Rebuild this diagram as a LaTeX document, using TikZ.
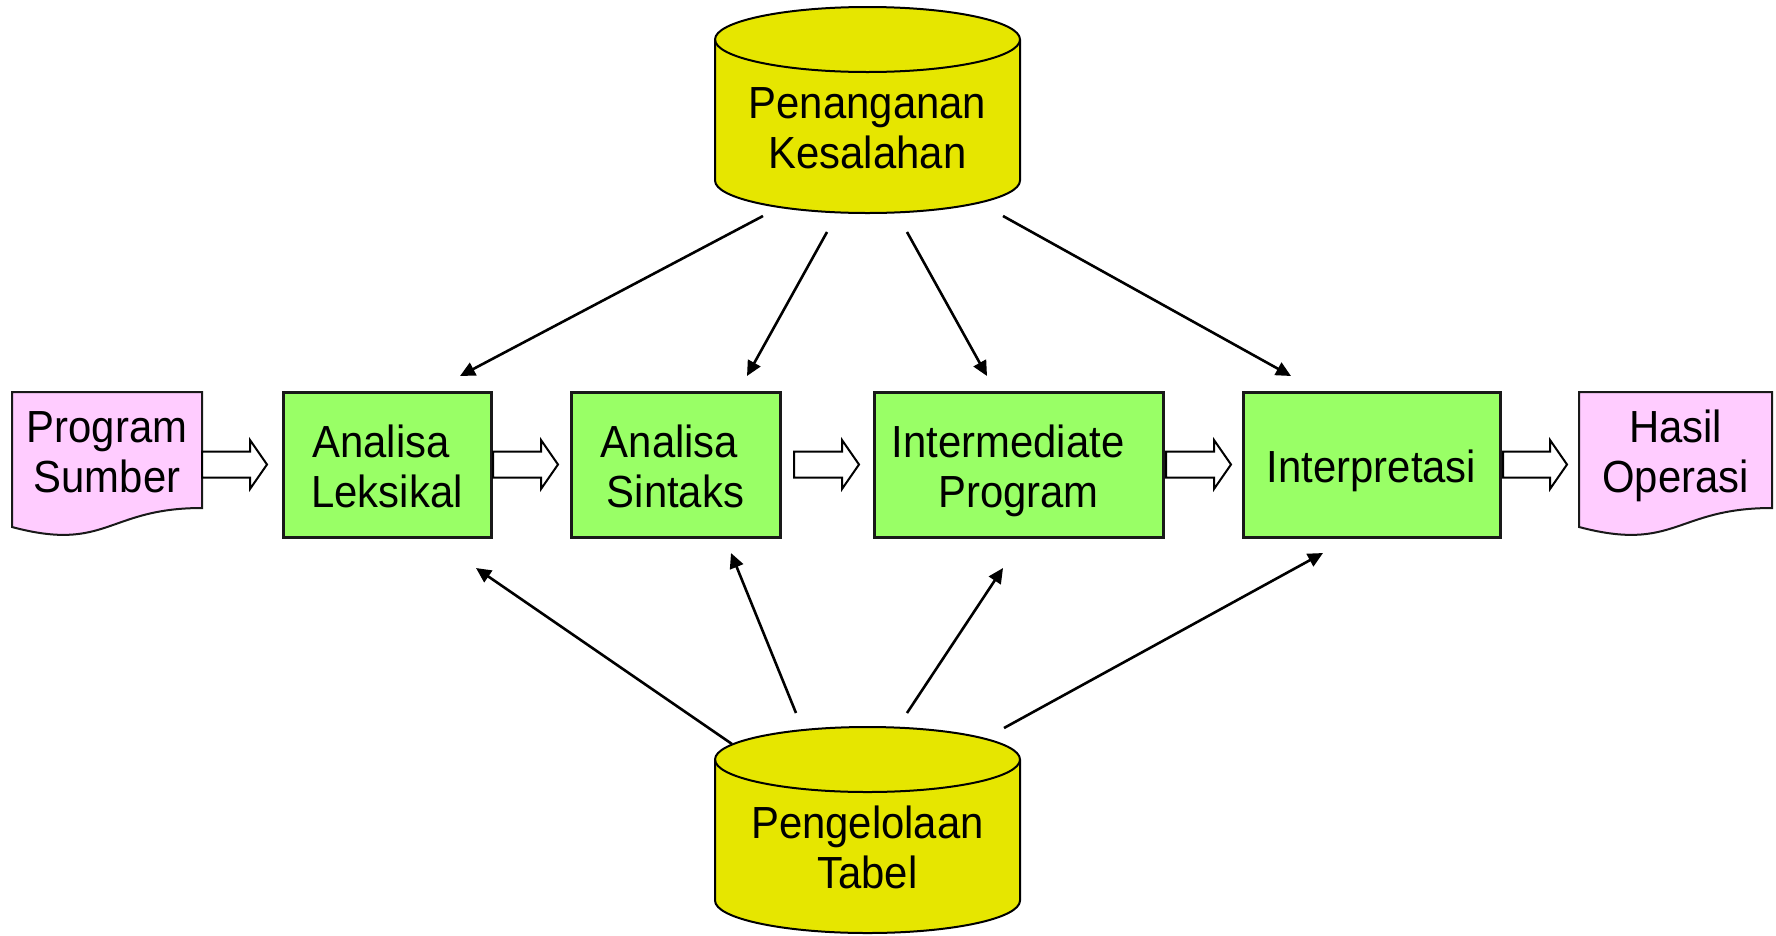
\documentclass[tikz,border=0pt]{standalone}
\usepackage{fontspec}
\setmainfont{Liberation Sans}[FakeStretch=0.93]
\usetikzlibrary{arrows.meta,calc}

\definecolor{drumyellow}{RGB}{230,230,0}
\definecolor{stagegreen}{RGB}{153,255,102}
\definecolor{docpink}{RGB}{255,204,255}

% fixed line extents so every label is centred the same way
\newcommand\topstrut{\rule{0pt}{46pt}}
\newcommand\botstrut{\rule[-11pt]{0pt}{11pt}}

% hollow block arrow from #1 to the tip #2
\newcommand\blockarrow[2]{%
  \draw[blk] let \p1=(#1), \p2=(#2) in
    (\x1,\y1+13pt) -- (\x2-17pt,\y1+13pt) -- (\x2-17pt,\y1+24.5pt) --
    (\x2,\y1) -- (\x2-17pt,\y1-24.5pt) -- (\x2-17pt,\y1-13pt) --
    (\x1,\y1-13pt) -- cycle;}

\begin{document}
\begin{tikzpicture}[x=1pt,y=-1pt,
  lbl/.style={font=\fontsize{45}{50}\selectfont, align=center, inner sep=0pt},
  stage/.style={lbl, draw=black!90, line width=3pt, fill=stagegreen,
                minimum height=145pt},
  drum/.style={draw=black, line width=2pt, fill=drumyellow},
  docshape/.style={draw=black!90, line width=2pt, fill=docpink},
  blk/.style={draw=black, line width=2pt, fill=white, line join=miter},
  conn/.style={line width=2.6pt, -{Triangle[length=15pt,width=14pt]}}]

\useasboundingbox (0,0) rectangle (1776,935);

% ---- storage drums ----
\filldraw[drum] (715,39.5) -- (715,180.5)
  arc[start angle=180,end angle=360,x radius=152.5pt,y radius=32.5pt]
  -- (1020,39.5)
  arc[start angle=0,end angle=180,x radius=152.5pt,y radius=32.5pt] -- cycle;
\draw[drum,fill=none] (715,39.5)
  arc[start angle=180,end angle=360,x radius=152.5pt,y radius=32.5pt];
\node[lbl] (err) at (867.5,125.5) {\topstrut Penanganan\\Kesalahan\botstrut};

\filldraw[drum] (715,759.5) -- (715,900.5)
  arc[start angle=180,end angle=360,x radius=152.5pt,y radius=32.5pt]
  -- (1020,759.5)
  arc[start angle=0,end angle=180,x radius=152.5pt,y radius=32.5pt] -- cycle;
\draw[drum,fill=none] (715,759.5)
  arc[start angle=180,end angle=360,x radius=152.5pt,y radius=32.5pt];
\node[lbl] (tab) at (867.5,845.5) {\topstrut Pengelolaan\\Tabel\botstrut};

% ---- documents ----
\filldraw[docshape] (12,392) -- (202,392) -- (202,508)
  .. controls (107,508) and (107,552.5) .. (12,527) -- cycle;
\node[lbl] (src) at (107,449.5) {\topstrut Program\\Sumber\botstrut};

\filldraw[docshape] (1579,392) -- (1772,392) -- (1772,508)
  .. controls (1675.5,508) and (1675.5,552.5) .. (1579,527) -- cycle;
\node[lbl] (res) at (1675.5,449.5) {\topstrut Hasil\\Operasi\botstrut};

% ---- processing stages ----
\node[stage, minimum width=208pt] (leks) at (387,464.5)
  {\topstrut Analisa\kern12pt\\Leksikal\botstrut};
\node[stage, minimum width=209pt] (sint) at (675.5,464.5)
  {\topstrut Analisa\kern12pt\\Sintaks\botstrut};
\node[stage, minimum width=289pt] (imed) at (1018.5,464.5)
  {\topstrut Intermediate\kern21pt\\Program\botstrut};
\node[stage, minimum width=257pt] (intp) at (1371.5,464.5)
  {\topstrut Interpretasi\botstrut};

% ---- flow between stages ----
\coordinate (bs1) at (202,464.5);  \coordinate (bt1) at (267,464.5);
\coordinate (bs2) at (493,464.5);  \coordinate (bt2) at (558,464.5);
\coordinate (bs3) at (794,464.5);  \coordinate (bt3) at (859,464.5);
\coordinate (bs4) at (1166,464.5); \coordinate (bt4) at (1231,464.5);
\coordinate (bs5) at (1503,464.5); \coordinate (bt5) at (1567,464.5);
\blockarrow{bs1}{bt1}
\blockarrow{bs2}{bt2}
\blockarrow{bs3}{bt3}
\blockarrow{bs4}{bt4}
\blockarrow{bs5}{bt5}

% ---- error handling feeds every stage ----
\coordinate (e1) at (763,216);  \coordinate (t1) at (460,376);
\coordinate (e2) at (827,232);  \coordinate (t2) at (747,376);
\coordinate (e3) at (907,232);  \coordinate (t3) at (987,376);
\coordinate (e4) at (1003,216); \coordinate (t4) at (1291,376);
\draw[conn] (e1) -- (t1);
\draw[conn] (e2) -- (t2);
\draw[conn] (e3) -- (t3);
\draw[conn] (e4) -- (t4);

% ---- table management feeds every stage ----
\coordinate (p1) at (732,744);  \coordinate (u1) at (476,568);
\coordinate (p2) at (796,713);  \coordinate (u2) at (731,553);
\coordinate (p3) at (907,713);  \coordinate (u3) at (1003,568);
\coordinate (p4) at (1004,728); \coordinate (u4) at (1323,553);
\draw[conn] (p1) -- (u1);
\draw[conn] (p2) -- (u2);
\draw[conn] (p3) -- (u3);
\draw[conn] (p4) -- (u4);

\end{tikzpicture}
\end{document}
